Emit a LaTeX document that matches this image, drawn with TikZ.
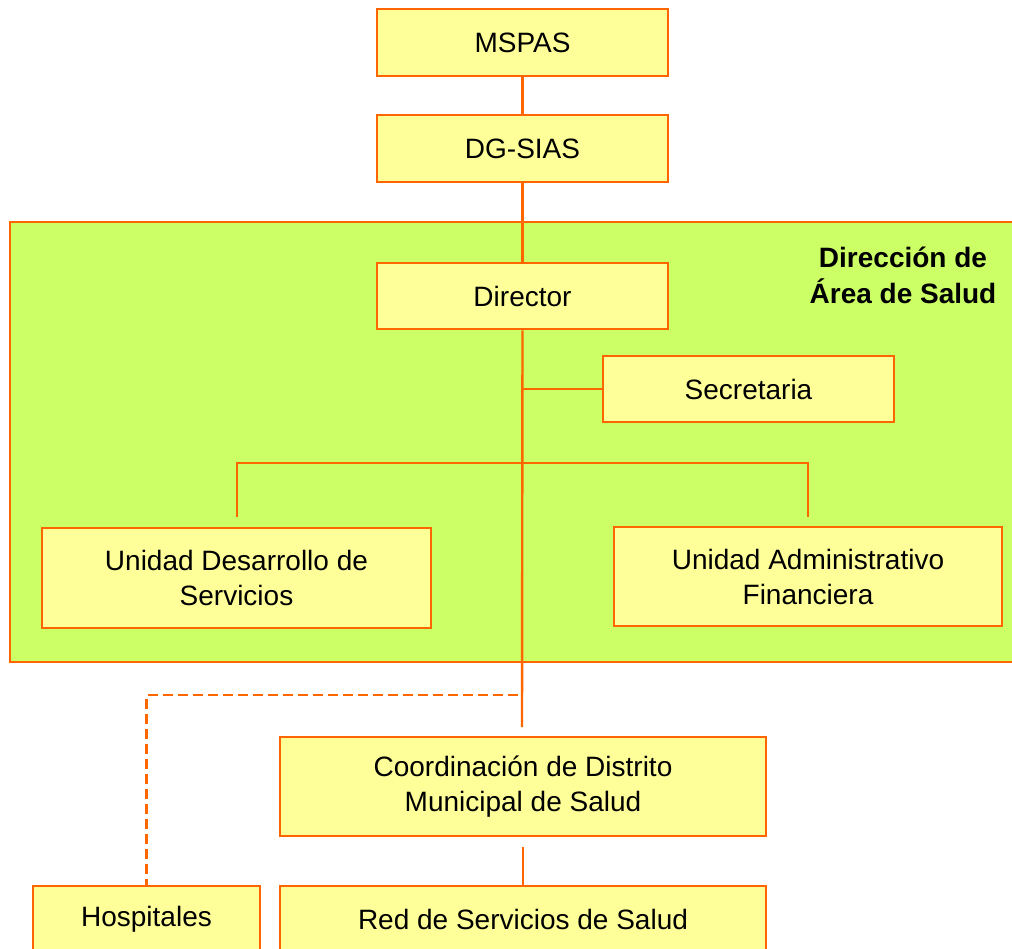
\documentclass[tikz,border=0pt]{standalone}
\usepackage{fontspec}
\setmainfont{Liberation Sans}

\definecolor{lineorange}{HTML}{FF6600}
\definecolor{boxyellow}{HTML}{FFFF99}
\definecolor{areagreen}{HTML}{CCFF66}

\tikzset{
  unit/.style={draw=lineorange, fill=boxyellow, line width=2.6pt, align=center,
    inner sep=0pt, font=\fontsize{28}{35}\selectfont},
  link/.style={draw=lineorange, line width=2.4pt}
}

\begin{document}
\begin{tikzpicture}[x=1pt, y=-1pt]
        \useasboundingbox (0,0) rectangle (1012,949);
        % area de salud
        \filldraw[fill=areagreen, draw=lineorange, line width=2.8pt] (10,222) rectangle (1020,662);
        \node[font=\fontsize{28}{36}\selectfont\bfseries, align=center] (titulo) at (903,275) {Dirección de\\Área de Salud};

        \node[unit, minimum width=291pt, minimum height=67pt] (mspas)    at (522.5,42.5)  {MSPAS};
        \node[unit, minimum width=291pt, minimum height=67pt] (dgsias)   at (522.5,148.5) {DG-SIAS};
        \node[unit, minimum width=291pt, minimum height=66pt] (director) at (522.5,296)   {Director};
        \node[unit, minimum width=291pt, minimum height=66pt] (secre)    at (748.5,389)   {Secretaria};
        \node[unit, minimum width=389pt, minimum height=100pt] (udes)    at (236.5,578)   {Unidad Desarrollo de\\Servicios};
        \node[unit, minimum width=388pt, minimum height=99pt]  (uadm)    at (808,576.5)   {Unidad Administrativo\\Financiera};
        \node[unit, minimum width=486pt, minimum height=99pt]  (coord)   at (523,786.5)   {Coordinación de Distrito\\Municipal de Salud};
        \node[unit, minimum width=227pt, minimum height=67pt]  (hosp)    at (146.5,919.5) {Hospitales};
        \node[unit, minimum width=486pt, minimum height=67pt]  (red)     at (523,919.5)   {Red de Servicios de Salud};

        \coordinate (bar)   at (522,463);
        \coordinate (d1)    at (237,517);
        \coordinate (d2)    at (808,517);
        \coordinate (tronco) at (522,727);
        \coordinate (h1)    at (518,695);

        \draw[link] (mspas)  -- (dgsias);
        \draw[link] (dgsias) -- (director);
        \draw[link] (director.south) -- (tronco);
        \draw[link] (secre.west) -- (secre.west -| director.south);
        \draw[link] (d1) |- (bar) -| (d2);
        \draw[link, dash pattern=on 10pt off 5pt] (h1) -| (hosp.north);
        \draw[link] ([yshift=-10pt]coord.south) -- (red.north);
    \end{tikzpicture}
\end{document}
